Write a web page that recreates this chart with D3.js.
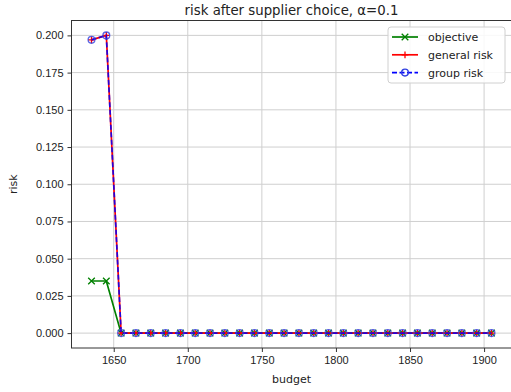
<!DOCTYPE html>
<html>
<head>
<meta charset="utf-8">
<title>risk after supplier choice</title>
<style>
body { margin: 0; background: #fff; }
svg { display: block; font-family: "DejaVu Sans", sans-serif; }
.tick text { font-size: 11px; fill: #222; }
</style>
<script src="https://cdn.jsdelivr.net/npm/d3@7"></script>
</head>
<body>
<div id="chart"></div>
<script>
// budgets 1635..1905 step 10
var budget = [1635, 1645, 1655, 1665, 1675, 1685, 1695, 1705, 1715, 1725, 1735, 1745, 1755, 1765,
	1775, 1785, 1795, 1805, 1815, 1825, 1835, 1845, 1855, 1865, 1875, 1885, 1895, 1905];
var objective = [0.035, 0.035, 0, 0, 0, 0, 0, 0, 0, 0, 0, 0, 0, 0, 0, 0, 0, 0, 0, 0, 0, 0, 0, 0, 0, 0, 0, 0];
var generalRisk = [0.197, 0.2, 0, 0, 0, 0, 0, 0, 0, 0, 0, 0, 0, 0, 0, 0, 0, 0, 0, 0, 0, 0, 0, 0, 0, 0, 0, 0];
var groupRisk = [0.197, 0.2, 0, 0, 0, 0, 0, 0, 0, 0, 0, 0, 0, 0, 0, 0, 0, 0, 0, 0, 0, 0, 0, 0, 0, 0, 0, 0];
var xTicks = [1650, 1700, 1750, 1800, 1850, 1900];
var yTicks = [0, 0.025, 0.05, 0.075, 0.1, 0.125, 0.15, 0.175, 0.2];
var seriesNames = ["objective", "general risk", "group risk"];

var W = 511, H = 392;
var pLeft = 71.5, pRight = 511.5, pTop = 20.5, pBottom = 348;

var svg = d3.select("#chart").append("svg").attr("width", W).attr("height", H);

var x = d3.scaleLinear().domain([1621.5, 1918.5]).range([pLeft, pRight]);
var y = d3.scaleLinear().domain([-0.01, 0.21]).range([pBottom, pTop]);

// grid
svg.append("g").selectAll("line").data(xTicks).enter().append("line")
	.attr("x1", function (d) { return x(d); }).attr("x2", function (d) { return x(d); })
	.attr("y1", pTop).attr("y2", pBottom)
	.attr("stroke", "#cfcfcf").attr("stroke-width", 1);
svg.append("g").selectAll("line").data(yTicks).enter().append("line")
	.attr("x1", pLeft).attr("x2", pRight)
	.attr("y1", function (d) { return y(d); }).attr("y2", function (d) { return y(d); })
	.attr("stroke", "#cfcfcf").attr("stroke-width", 1);

// axes
var xAxis = svg.append("g").attr("transform", "translate(0," + pBottom + ")")
	.call(d3.axisBottom(x).tickValues(xTicks).tickSize(4).tickPadding(4).tickFormat(d3.format("d")));
var yAxis = svg.append("g").attr("transform", "translate(" + pLeft + ",0)")
	.call(d3.axisLeft(y).tickValues(yTicks).tickSize(4).tickPadding(4).tickFormat(d3.format(".3f")));
[xAxis, yAxis].forEach(function (a) {
	a.select(".domain").remove();
	a.selectAll(".tick line").attr("stroke", "#333");
});

svg.append("rect").attr("x", pLeft).attr("y", pTop)
	.attr("width", pRight - pLeft).attr("height", pBottom - pTop)
	.attr("fill", "none").attr("stroke", "#333").attr("stroke-width", 1);

var line = d3.line().x(function (d) { return x(d[0]); }).y(function (d) { return y(d[1]); });
function pairs(vals) { return budget.map(function (b, i) { return [b, vals[i]]; }); }

// objective, green with x markers
svg.append("path").datum(pairs(objective)).attr("d", line)
	.attr("fill", "none").attr("stroke", "#008000").attr("stroke-width", 1.7);
svg.append("g").selectAll("path").data(pairs(objective)).enter().append("path")
	.attr("transform", function (d) { return "translate(" + x(d[0]) + "," + y(d[1]) + ")"; })
	.attr("d", "M-3.3,-3.3L3.3,3.3M-3.3,3.3L3.3,-3.3")
	.attr("stroke", "#008000").attr("stroke-width", 1.3);

// general risk, red with + markers
svg.append("path").datum(pairs(generalRisk)).attr("d", line)
	.attr("fill", "none").attr("stroke", "#ff0000").attr("stroke-width", 1.7);
svg.append("g").selectAll("path").data(pairs(generalRisk)).enter().append("path")
	.attr("transform", function (d) { return "translate(" + x(d[0]) + "," + y(d[1]) + ")"; })
	.attr("d", "M-3.4,0L3.4,0M0,-3.4L0,3.4")
	.attr("stroke", "#ff0000").attr("stroke-width", 1.3);

// group risk, blue dashed with open circles
svg.append("path").datum(pairs(groupRisk)).attr("d", line)
	.attr("fill", "none").attr("stroke", "#0000ff").attr("stroke-width", 1.7)
	.attr("stroke-dasharray", "5,2.5").attr("opacity", 0.85);
svg.append("g").selectAll("circle").data(pairs(groupRisk)).enter().append("circle")
	.attr("cx", function (d) { return x(d[0]); }).attr("cy", function (d) { return y(d[1]); })
	.attr("r", 3.4).attr("fill", "none").attr("stroke", "#3040e0").attr("stroke-width", 1.3)
	.attr("opacity", 0.8);

// labels
svg.append("text").attr("x", (pLeft + pRight) / 2).attr("y", 15).attr("text-anchor", "middle")
	.attr("font-size", 13.3).attr("fill", "#222").text("risk after supplier choice, α=0.1");
svg.append("text").attr("x", (pLeft + pRight) / 2).attr("y", 383).attr("text-anchor", "middle")
	.attr("font-size", 11).attr("fill", "#222").text("budget");
svg.append("text").attr("transform", "translate(17," + ((pTop + pBottom) / 2) + ") rotate(-90)")
	.attr("text-anchor", "middle").attr("font-size", 11).attr("fill", "#222").text("risk");

// legend
var lg = svg.append("g").attr("transform", "translate(388,27)");
lg.append("rect").attr("width", 117).attr("height", 56).attr("rx", 3)
	.attr("fill", "#fff").attr("fill-opacity", 0.85).attr("stroke", "#d0d0d0");
var colors = ["#008000", "#ff0000", "#0000ff"];
seriesNames.forEach(function (name, i) {
	var g = lg.append("g").attr("transform", "translate(0," + (10 + i * 17.8) + ")");
	g.append("line").attr("x1", 4).attr("x2", 30).attr("stroke", colors[i]).attr("stroke-width", 1.7)
		.attr("stroke-dasharray", i == 2 ? "5,2.5" : null);
	if (i == 0) g.append("path").attr("d", "M13.7,-3.3L20.3,3.3M13.7,3.3L20.3,-3.3").attr("stroke", colors[i]).attr("stroke-width", 1.3);
	if (i == 1) g.append("path").attr("d", "M13.6,0L20.4,0M17,-3.4L17,3.4").attr("stroke", colors[i]).attr("stroke-width", 1.3);
	if (i == 2) g.append("circle").attr("cx", 17).attr("r", 3.4).attr("fill", "none").attr("stroke", "#3040e0").attr("stroke-width", 1.3);
	g.append("text").attr("x", 40).attr("y", 4).attr("font-size", 11).attr("fill", "#222").text(name);
});
</script>
</body>
</html>
